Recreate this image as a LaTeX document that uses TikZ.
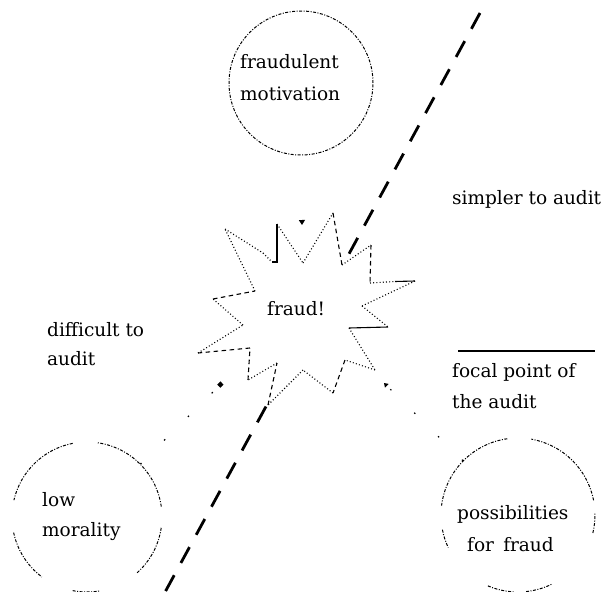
\documentclass[tikz,border=0pt]{standalone}
\usepackage{fontspec}
\setmainfont{DejaVu Serif}
\usetikzlibrary{arrows.meta}
\begin{document}
\begin{tikzpicture}[x=1pt,y=-1pt,
  lbl/.style={anchor=base west, align=left, inner sep=0pt, font=\fontsize{18.5}{#1}\selectfont},
  lbl/.default=31,
  ring/.style={line width=1pt, dash pattern=on 3pt off 1.5pt on 1pt off 1.5pt},
  dotl/.style={line width=1.1pt, dash pattern=on 1pt off 2.2pt},
  dashl/.style={line width=1.1pt, dash pattern=on 4.5pt off 3.5pt},
  soll/.style={line width=1.1pt},
  divider/.style={line width=2.8pt, dash pattern=on 18pt off 14pt},
  hole/.style={circle, minimum size=#1, inner sep=0pt, draw=none},
  conn/.style={line width=1.2pt, dash pattern=on 1.5pt off 32pt}
]
\useasboundingbox (0,0) rectangle (606,592);
\fill[white] (0,0) rectangle (606,592);

% circles
\node[hole=144pt] (topc) at (301,83) {};
\draw[ring] (topc.center) circle[radius=72pt];

\node[hole=150pt] (lowc) at (87,517) {};
\foreach \s/\e in {8/82, 101/167, 192/233, 259/280, 312/352}
  \draw[ring] (lowc.center) ++(\s:75pt) arc[start angle=\s, end angle=\e, radius=75pt];

\node[hole=154pt] (posc) at (518,515) {};
\foreach \s/\e in {11/80, 98/173, 191/205, 247/267, 276/296, 346.5/361}
  \draw[ring] (posc.center) ++(\s:77pt) arc[start angle=\s, end angle=\e, radius=77pt];

% dividing line (under the star)
\coordinate (d1) at (480,13);
\coordinate (d2) at (164,594);
\draw[divider] (d1) -- (d2);

% star outline
\coordinate (s1) at (225,229);
\coordinate (s2) at (263,253);
\coordinate (s3) at (277,262);
\coordinate (s4) at (277,224);
\coordinate (s5) at (303,263);
\coordinate (s6) at (333,213);
\coordinate (s7) at (342,265);
\coordinate (s8) at (371,245);
\coordinate (s9) at (370,283);
\coordinate (s10) at (415,281);
\coordinate (s11) at (362,306);
\coordinate (s12) at (388,327);
\coordinate (s13) at (349,328);
\coordinate (s14) at (375,370);
\coordinate (s15) at (345,360);
\coordinate (s16) at (333,393);
\coordinate (s17) at (303,370);
\coordinate (s18) at (268,405);
\coordinate (s19) at (277,363);
\coordinate (s20) at (248,380);
\coordinate (s21) at (250,348);
\coordinate (s22) at (198,353);
\coordinate (s23) at (243,325);
\coordinate (s24) at (213,299);
\coordinate (s25) at (255,291);
\fill[white] (s1) -- (s2) -- (s3) -- (s4) -- (s5) -- (s6) -- (s7) -- (s8) -- (s9) -- (s10)
  -- (s11) -- (s12) -- (s13) -- (s14) -- (s15) -- (s16) -- (s17) -- (s18) -- (s19) -- (s20)
  -- (s21) -- (s22) -- (s23) -- (s24) -- (s25) -- cycle;
\draw[dotl] (s1) -- (s2);
\draw[dotl] (s2) -- (272,262);
\draw[soll] (272,262) -- (s3) -- (s4);
\draw[dotl] (s4) -- (s5);
\draw[dotl] (s5) -- (s6);
\draw[dashl] (s6) -- (s7);
\draw[dotl] (s7) -- (s8);
\draw[dashl] (s8) -- (s9);
\draw[dotl] (s9) -- (395,281.5);
\draw[soll] (395,281.5) -- (s10);
\draw[dotl] (s10) -- (s11);
\draw[dotl] (s11) -- (s12);
\draw[soll] (s12) -- (s13);
\draw[dotl] (s13) -- (s14);
\draw[dotl] (s14) -- (s15);
\draw[dashl] (s15) -- (s16);
\draw[dotl] (s16) -- (s17);
\draw[dotl] (s17) -- (s18);
\draw[dashl] (s18) -- (s19);
\draw[dotl] (s19) -- (s20);
\draw[dashl] (s20) -- (s21);
\draw[dashl] (s21) -- (s22);
\draw[dotl] (s22) -- (s23);
\draw[dotl] (s23) -- (s24);
\draw[dashl] (s24) -- (s25);
\draw[dotl] (s25) -- (s1);

\node[lbl] (fraud) at (267,315) {fraud!};

% faint connectors into the star
\coordinate (ta) at (302,225);
\coordinate (la) at (222,383);
\coordinate (ra) at (384,383);
\draw[line width=1pt, dash pattern=on 0pt off 200pt, -{Triangle[width=6pt,length=5pt]}] (topc.south) -- (ta);
\draw[conn, -{Square[width=4.5pt,length=4.5pt]}] (lowc) -- (la);
\draw[conn, -{Triangle[width=5pt,length=4pt]}] (posc) -- (ra);

% labels (anchor = baseline of the last line)
\node[lbl=32] (mot) at (240,100) {fraudulent\\motivation};
\node[lbl] (simp) at (452,204) {simpler to audit};
\node[lbl=29] (diff) at (47,365) {difficult to\\audit};
\coordinate (f1) at (458,351);
\coordinate (f2) at (595,351);
\draw[line width=1.2pt] (f1) -- (f2);
\node[lbl] (focal) at (452,408) {focal point of\\the audit};
\node[lbl=30] (low) at (42,536) {low\\morality};
\node[lbl=32] (poss) at (457,551) {possibilities\\\hspace*{10pt}for\hspace{0.5em}fraud};
\end{tikzpicture}
\end{document}
